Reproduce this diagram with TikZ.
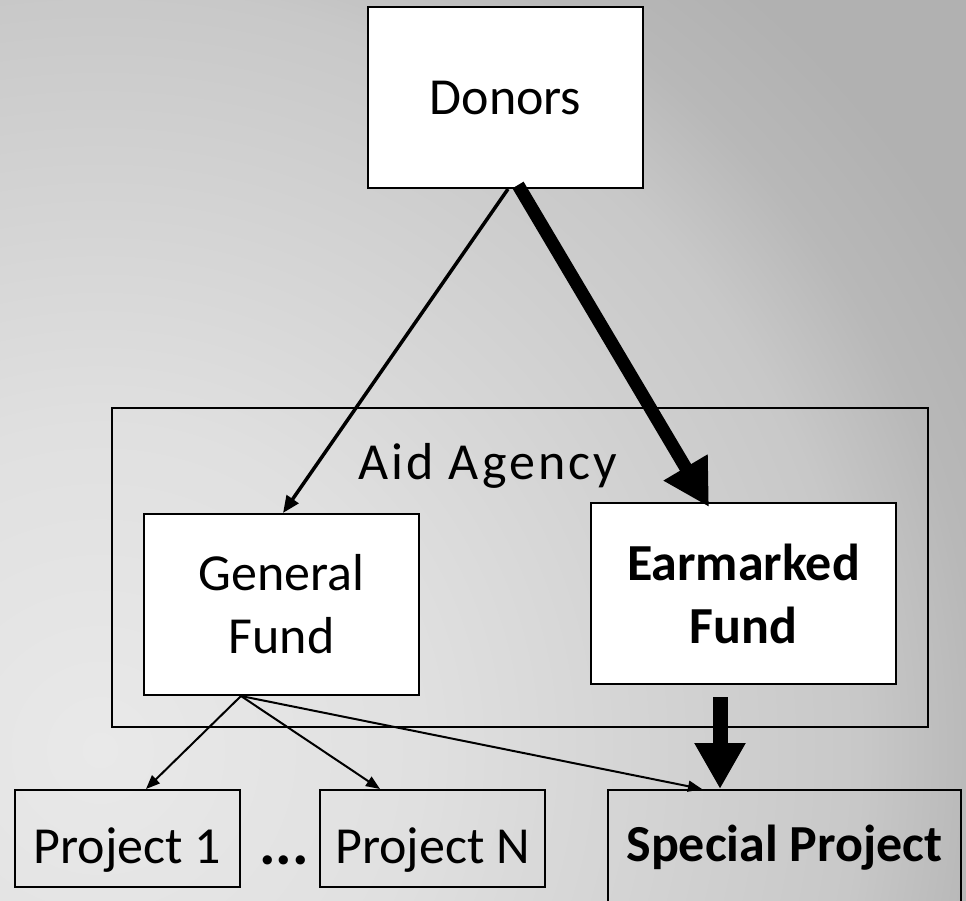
\documentclass[tikz,border=0pt]{standalone}
\usepackage{fontspec}
\setmainfont{Carlito}
\newfontfamily\spacedfont[LetterSpace=6]{Carlito}
\usetikzlibrary{arrows.meta,calc}
\definecolor{bgA}{HTML}{E9E9E9}
\definecolor{bgB}{HTML}{E0E0E0}
\definecolor{bgC}{HTML}{C8C8C8}
\definecolor{bgD}{HTML}{B8B8B8}
\definecolor{bgE}{HTML}{B1B1B1}
\pgfdeclareradialshading{bgshade}{\pgfpointorigin}{color(0bp)=(bgA); color(8bp)=(bgB); color(19bp)=(bgC); color(22bp)=(bgD); color(25bp)=(bgE); color(50bp)=(bgE)}
\begin{document}
\begin{tikzpicture}[x=1pt,y=-1pt,
  bigtext/.style={font=\fontsize{52}{63}\selectfont},
  boldtext/.style={font=\fontsize{52}{63}\selectfont\bfseries},
  framebox/.style={draw=black, line width=2pt, inner sep=0pt, align=center},
  whitebox/.style={framebox, fill=white},
  thinarrow/.style={line width=2pt, -{Triangle[length=14pt,width=11pt]}},
  midarrow/.style={line width=3.5pt, -{Triangle[length=17pt,width=14pt]}},
  fatarrow/.style={-{Triangle[length=46pt,width=48pt]}}
]
\useasboundingbox (0,0) rectangle (966,900);
\begin{scope}
  \clip (0,0) rectangle (966,900);
  \shade[shading=bgshade] (-900,-250) rectangle (1100,1750);
\end{scope}

% boxes
\node[whitebox, bigtext, minimum width=275pt, minimum height=181pt, text height=33pt, text depth=0pt] (donors) at (505.5,97.5) {Donors};
\node[framebox, minimum width=816pt, minimum height=319pt] (agency) at (520,567.5) {};
\node[bigtext, anchor=base, font=\fontsize{52}{63}\spacedfont] (agencylabel) at (488,479) {Aid Agency};
\node[whitebox, bigtext, minimum width=275pt, minimum height=181pt] (general) at (281.5,604.5) {General\\Fund};
\node[whitebox, boldtext, minimum width=305pt, minimum height=181pt] (earmarked) at (743.5,593.5) {Earmarked\\Fund};
\node[framebox, bigtext, minimum width=225pt, minimum height=97pt, text height=50pt, text depth=0pt] (project1) at (127.5,838.5) {Project 1};
\node[framebox, bigtext, minimum width=225pt, minimum height=97pt, text height=50pt, text depth=0pt] (projectN) at (432.5,838.5) {Project N};
\node[font=\fontsize{62}{70}\selectfont\bfseries, anchor=base] (dots) at (284,864) {...};
\node[framebox, boldtext, minimum width=353pt, minimum height=142pt, text height=20pt, text depth=20pt] (special) at (784.5,861) {Special Project};

% connectors
\draw[midarrow] ([xshift=2.5pt]donors.south) -- ([xshift=1.5pt]general.north);
\draw[fatarrow, line width=13pt] ([xshift=12.5pt,yshift=4pt]donors.south) -- ([xshift=-34.5pt,yshift=-5pt]earmarked.north);
\draw[thinarrow] ([xshift=-40.5pt]general.south) -- ([xshift=18.5pt]project1.north);
\draw[thinarrow] ([xshift=-40.5pt]general.south) -- ([xshift=-52.5pt]projectN.north);
\draw[thinarrow] ([xshift=-40.5pt]general.south) -- ([xshift=-82.5pt]special.north);
\coordinate (es) at ([xshift=-23.5pt,yshift=-12pt]earmarked.south);
\coordinate (st) at (es |- special.north);
\draw[fatarrow, line width=15pt] (es) -- (st);
\end{tikzpicture}
\end{document}
